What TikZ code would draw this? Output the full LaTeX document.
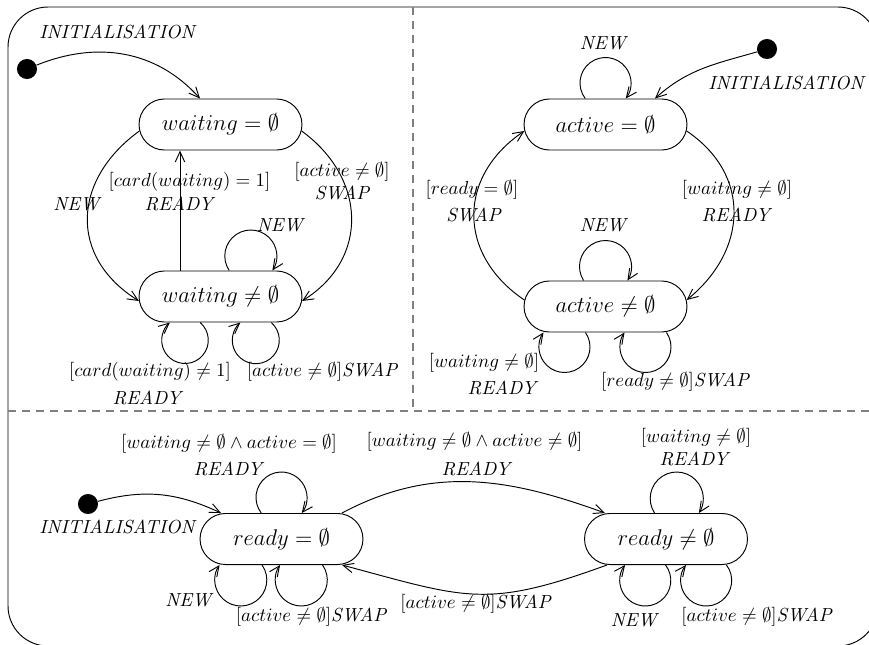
\documentclass[tikz,border=0pt]{standalone}
\usetikzlibrary{arrows.meta,calc,shapes.misc}
\newcommand\lpup[4]{%
  \pgfmathsetmacro\lpc{sqrt((#3)*(#3)-(#4)*(#4))}%
  \pgfmathsetmacro\lpb{atan2(#4,\lpc)}%
  \draw[arr] ($(#1.north)+(#2-\lpc,0)$) arc[start angle=180+\lpb, end angle=-\lpb, radius=#3];}
\newcommand\lpdn[4]{%
  \pgfmathsetmacro\lpc{sqrt((#3)*(#3)-(#4)*(#4))}%
  \pgfmathsetmacro\lpb{atan2(#4,\lpc)}%
  \draw[arr] ($(#1.south)+(#2+\lpc,0)$) arc[start angle=\lpb, end angle=-180-\lpb, radius=#3];}
\begin{document}
\begin{tikzpicture}[x=0.529pt,y=0.529pt,
  state/.style={rounded rectangle, draw, line width=0.5pt, minimum width=86.2pt,
    minimum height=27pt, inner sep=0pt, font=\large},
  init/.style={circle, fill=black, minimum size=10.6pt, inner sep=0pt},
  lbl/.style={inner sep=0pt},
  arr/.style={line width=0.5pt, -{Straight Barb[length=5.5pt,width=5pt]}},
  sep/.style={dash pattern=on 4.2pt off 3.2pt, draw=black!50, line width=0.6pt}]
\useasboundingbox (0,0) rectangle (869,-644);
\clip (0,0) rectangle (869,-644);
% frame and separators
\draw[line width=0.5pt, rounded corners=21.2pt] (8,-7) rectangle (878,-646);
\draw[sep] (413,-7) -- (413,-411);
\draw[sep] (8,-411) -- (878,-411);
% states
\node[state] (w0) at (220.5,-124.5) {$waiting = \emptyset$};
\node[state] (w1) at (220.5,-296.5) {$waiting \neq \emptyset$};
\node[state] (a0) at (605.5,-124.5) {$active = \emptyset$};
\node[state] (a1) at (605.5,-306.5) {$active \neq \emptyset$};
\node[state] (r0) at (281.5,-539) {$ready = \emptyset$};
\node[state] (r1) at (666,-539) {$ready \neq \emptyset$};
% initial points
\node[init] (i1) at (27,-69) {};
\node[init] (i2) at (767,-49) {};
\node[init] (i3) at (88,-504) {};
% top-left
\draw[arr] (i1) to[out=22,in=132] ($(w0.north)+(-20.5,0)$);
\draw[arr] ($(w1.north)+(-40.5,0)$) -- ($(w0.south)+(-40.5,0)$);
\draw[arr] ($(w0.west)+(0.8,-6.5)$) to[out=216,in=148,looseness=1.25] ($(w1.west)+(0.4,-4.5)$);
\draw[arr] ($(w0.east)+(-0.8,-6.5)$) to[out=-36,in=32,looseness=1.2] ($(w1.east)+(-0.4,-4.5)$);
\lpup{w1}{30.3}{26}{14.5}
\lpdn{w1}{-35.5}{23.3}{17.7}
\lpdn{w1}{35.3}{23.5}{17.7}
\node[lbl] (t1) at (118,-32) {\textit{INITIALISATION}};
\node[lbl] (t2) at (189.5,-182) {$[card(waiting) = 1]$};
\node[lbl] (t3) at (180,-204) {\textit{READY}};
\node[lbl] (t4) at (77.5,-204) {\textit{NEW}};
\node[lbl] (t5) at (342,-172) {$[active \neq \emptyset]$};
\node[lbl] (t6) at (342.5,-193) {\textit{SWAP}};
\node[lbl] (t7) at (281,-225) {\textit{NEW}};
\node[lbl] (t8) at (150,-372) {$[card(waiting) \neq 1]$};
\node[lbl] (t9) at (148,-398) {\textit{READY}};
\node[lbl] (t10) at (323,-372) {$[active \neq \emptyset]\mathit{SWAP}$};
% top-right
\draw[arr] (i2) to[out=196,in=42] ($(a0.north)+(49.5,0)$);
\draw[arr] ($(a1.west)+(0.8,6.5)$) to[out=146,in=214,looseness=1.23] ($(a0.west)+(0.8,-6.5)$);
\draw[arr] ($(a0.east)+(-0.8,-6.5)$) to[out=-34,in=39,looseness=1.19] ($(a1.east)+(-0.8,6.5)$);
\lpup{a0}{0}{25.5}{15.5}
\lpup{a1}{0}{26}{14}
\lpdn{a1}{-41}{25.5}{14.5}
\lpdn{a1}{40}{25.5}{14.5}
\node[lbl] (u1) at (604,-43) {\textit{NEW}};
\node[lbl] (u2) at (787,-83) {\textit{INITIALISATION}};
\node[lbl] (u3) at (472,-190) {$[ready = \emptyset]$};
\node[lbl] (u4) at (474,-215) {\textit{SWAP}};
\node[lbl] (u5) at (737,-190) {$[waiting \neq \emptyset]$};
\node[lbl] (u6) at (737,-215) {\textit{READY}};
\node[lbl] (u7) at (604,-225) {\textit{NEW}};
\node[lbl] (u8) at (484,-363) {$[waiting \neq \emptyset]$};
\node[lbl] (u9) at (503,-388) {\textit{READY}};
\node[lbl] (u10) at (676,-382) {$[ready \neq \emptyset]\mathit{SWAP}$};
% bottom
\draw[arr] (i3) to[out=15,in=155] ($(r0.north)+(-60.5,0)$);
\draw[arr] ($(r0.north)+(60.5,0)$) to[out=28,in=160] ($(r1.north)+(-61,0)$);
\draw[arr] ($(r1.south)+(-59,0)$) to[out=200,in=-15,looseness=1.25] ($(r0.south)+(60.5,0)$);
\lpup{r0}{0}{25.5}{15.5}
\lpdn{r0}{-40.7}{26}{15}
\lpdn{r0}{19.8}{26}{15}
\lpup{r1}{10.7}{26.5}{14.5}
\lpdn{r1}{-20.7}{25.5}{15.5}
\lpdn{r1}{40.2}{25.5}{15.5}
\node[lbl] (v1) at (229,-444) {$[waiting \neq \emptyset \wedge active = \emptyset]$};
\node[lbl] (v2) at (229,-469) {\textit{READY}};
\node[lbl] (v3) at (474.5,-442) {$[waiting \neq \emptyset \wedge active \neq \emptyset]$};
\node[lbl] (v4) at (477,-469) {\textit{READY}};
\node[lbl] (v5) at (696,-438) {$[waiting \neq \emptyset]$};
\node[lbl] (v6) at (695,-459) {\textit{READY}};
\node[lbl] (v7) at (118,-527) {\textit{INITIALISATION}};
\node[lbl] (v8) at (189.5,-600) {\textit{NEW}};
\node[lbl] (v9) at (312,-617) {$[active \neq \emptyset]\mathit{SWAP}$};
\node[lbl] (v10) at (476.5,-604) {$[active \neq \emptyset]\mathit{SWAP}$};
\node[lbl] (v11) at (635,-620) {\textit{NEW}};
\node[lbl] (v12) at (757.5,-617) {$[active \neq \emptyset]\mathit{SWAP}$};
\end{tikzpicture}
\end{document}
